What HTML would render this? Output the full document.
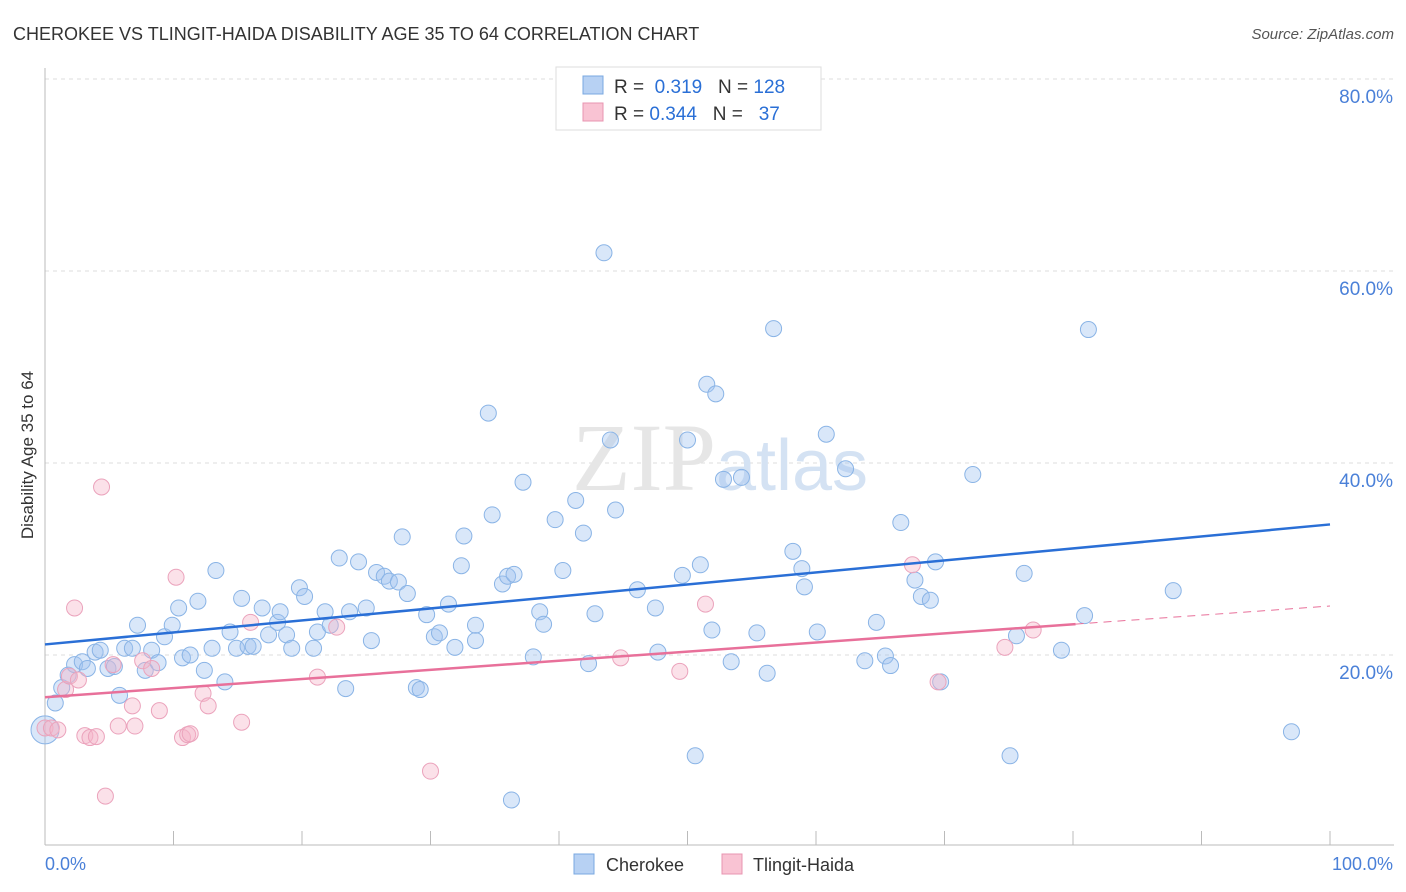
<!DOCTYPE html>
<html><head><meta charset="utf-8">
<style>
html,body{margin:0;padding:0;background:#fff;}
body{width:1406px;height:892px;overflow:hidden;font-family:"Liberation Sans",sans-serif;}
</style></head>
<body>
<svg id="chart" width="1406" height="892" xmlns="http://www.w3.org/2000/svg" style="position:absolute;left:0;top:0">
<text x="13" y="40" font-size="18" fill="#333" font-family="Liberation Sans, sans-serif">CHEROKEE VS TLINGIT-HAIDA DISABILITY AGE 35 TO 64 CORRELATION CHART</text>
<text x="1394" y="39" font-size="15" fill="#555" text-anchor="end" font-style="italic">Source: ZipAtlas.com</text>
<g id="grid"></g>
<text x="720" y="490" font-size="96" fill="#e6e6e6" text-anchor="middle" font-family="Liberation Serif, serif">ZIP<tspan fill="#d4e2f3" font-family="Liberation Sans, sans-serif" font-size="72">atlas</tspan></text>
<g id="marks"></g>
<text transform="translate(33,455) rotate(-90)" font-size="17" fill="#333" text-anchor="middle">Disability Age 35 to 64</text>
<text x="45" y="870" font-size="18" fill="#4a80d8">0.0%</text>
<text x="1393" y="870" font-size="18" fill="#4a80d8" text-anchor="end">100.0%</text>
<g>
<rect x="556" y="67" width="265" height="63" fill="#fff" stroke="#ddd"/>
<rect x="583" y="76" width="20" height="18" fill="#b7d1f3" stroke="#7aa8e0"/>
<rect x="583" y="103" width="20" height="18" fill="#f9c3d3" stroke="#e895b0"/>
<text x="614" y="93" font-size="19" fill="#333">R = <tspan fill="#2a6fd6">&#160;0.319</tspan>&#160;&#160;&#160;N = <tspan fill="#2a6fd6">128</tspan></text>
<text x="614" y="120" font-size="19" fill="#333">R = <tspan fill="#2a6fd6">0.344</tspan>&#160;&#160;&#160;N = <tspan fill="#2a6fd6">&#160;&#160;37</tspan></text>
</g>
<g>
<rect x="574" y="854" width="20" height="20" fill="#b7d1f3" stroke="#7aa8e0"/>
<text x="606" y="871" font-size="18" fill="#333">Cherokee</text>
<rect x="722" y="854" width="20" height="20" fill="#f9c3d3" stroke="#e895b0"/>
<text x="753" y="871" font-size="18" fill="#333">Tlingit-Haida</text>
</g>
</svg>
<script>
const yTicks=[20,40,60,80];
const yTickLabels=["20.0%","40.0%","60.0%","80.0%"];
const cherokeeX=[0,0.8,1.3,1.8,2.3,2.9,3.3,3.9,4.3,4.9,5.4,5.8,6.2,6.8,7.2,7.8,8.3,8.8,9.3,9.9,10.4,10.7,11.3,11.9,12.4,13.0,13.3,14.0,14.4,14.9,15.3,15.8,16.2,16.9,17.4,18.1,18.3,18.8,19.2,19.8,20.2,20.9,21.2,21.8,22.2,22.9,23.4,23.7,24.4,25.0,25.4,25.8,26.4,26.8,27.5,27.8,28.2,28.9,29.2,29.7,30.3,30.7,31.4,31.9,32.4,32.6,33.5,33.5,34.5,34.8,35.6,36.0,36.5,37.2,38.0,38.5,38.8,39.7,40.3,41.3,41.9,42.3,42.8,43.5,44.0,44.4,46.1,47.5,47.7,49.6,50.0,50.6,51.0,51.5,51.9,52.2,52.8,53.4,54.2,55.4,56.2,56.7,58.2,58.9,59.1,60.1,60.8,62.3,63.8,64.7,65.4,65.8,66.6,67.7,68.2,68.9,69.3,69.7,72.2,75.1,75.6,76.2,79.1,80.9,81.2,87.8,97.0,36.3];
const cherokeeY=[12.2,15.0,16.6,17.9,19.0,19.3,18.6,20.3,20.5,18.6,18.8,15.8,20.7,20.7,23.1,18.4,20.5,19.2,21.9,23.1,24.9,19.7,20.0,25.6,18.4,20.7,28.8,17.2,22.4,20.7,25.9,20.9,20.9,24.9,22.1,23.4,24.5,22.1,20.7,27.0,26.1,20.7,22.4,24.5,23.1,30.1,16.5,24.5,29.7,24.9,21.5,28.6,28.2,27.7,27.6,32.3,26.4,16.6,16.4,24.2,21.9,22.3,25.3,20.8,29.3,32.4,23.1,21.5,45.2,34.6,27.4,28.2,28.4,38.0,19.8,24.5,23.2,34.1,28.8,36.1,32.7,19.1,24.3,61.9,42.4,35.1,26.8,24.9,20.3,28.3,42.4,9.5,29.4,48.2,22.6,47.2,38.3,19.3,38.5,22.3,18.1,54.0,30.8,29.0,27.1,22.4,43.0,39.4,19.4,23.4,19.9,18.9,33.8,27.8,26.1,25.7,29.7,17.2,38.8,9.5,22.0,28.5,20.5,24.1,53.9,26.7,12.0,4.9];
const tlingitX=[0,0.5,1.0,1.6,1.9,2.3,2.6,3.1,3.5,4.0,4.4,4.7,5.3,5.7,6.8,7.0,7.6,8.3,8.9,10.2,10.7,11.1,11.3,12.3,12.7,15.3,16.0,21.2,22.7,30.0,44.8,49.4,51.4,67.5,69.5,74.7,76.9];
const tlingitY=[12.4,12.4,12.2,16.4,17.8,24.9,17.4,11.6,11.4,11.5,37.5,5.3,19.0,12.6,14.7,12.6,19.4,18.6,14.2,28.1,11.4,11.7,11.8,16.0,14.7,13.0,23.4,17.7,22.9,7.9,19.7,18.3,25.3,29.4,17.2,20.8,22.6];
const cherokeeTrend=[21.1,33.6];
const tlingitTrend=[15.6,25.1];
const tlingitSolidEnd=80.2;

const X0=45,X1=1330,YB=847,PXPER=9.6;
const sx=v=>X0+(X1-X0)*v/100;
const sy=v=>YB-v*PXPER;
const NS="http://www.w3.org/2000/svg";
function mk(tag,attrs,parent){const e=document.createElementNS(NS,tag);for(const k in attrs)e.setAttribute(k,attrs[k]);parent.appendChild(e);return e;}
const grid=document.getElementById('grid');
const marks=document.getElementById('marks');
yTicks.forEach((t,i)=>{
  const l=mk('line',{x1:45,x2:1394,y1:sy(t),y2:sy(t),stroke:'#ddd','stroke-dasharray':'4,4'},grid);
  
  
  const tx=mk('text',{x:1393,y:sy(t)+24,'font-size':19,fill:'#4a80d8','text-anchor':'end'},grid);
  tx.textContent=yTickLabels[i];
  
  
});
const ax=mk('line',{x1:45,x2:1394,y1:845,y2:845,stroke:'#bbb'},grid);


const ay=mk('line',{x1:45,x2:45,y1:68,y2:845,stroke:'#bbb'},grid);


for(let i=0;i<=10;i++){
  const t=mk('line',{x1:sx(i*10),x2:sx(i*10),y1:831,y2:845,stroke:'#bbb'},grid);
  
  
}
cherokeeX.forEach((x,i)=>{
  const c=mk('circle',{cx:sx(x),cy:sy(cherokeeY[i]),r:i===0?14:8,fill:'rgba(160,196,240,0.4)',stroke:'#8ab4e6','stroke-width':1},marks);
  
  
});
tlingitX.forEach((x,i)=>{
  const c=mk('circle',{cx:sx(x),cy:sy(tlingitY[i]),r:8,fill:'rgba(245,180,200,0.4)',stroke:'#eba3bc','stroke-width':1},marks);
  
  
});
const bl=mk('line',{x1:sx(0),y1:sy(cherokeeTrend[0]),x2:sx(100),y2:sy(cherokeeTrend[1]),stroke:'#2a6fd6','stroke-width':2.5},marks);


const pm=tlingitTrend[0]+(tlingitTrend[1]-tlingitTrend[0])*tlingitSolidEnd/100;
const pl=mk('line',{x1:sx(0),y1:sy(tlingitTrend[0]),x2:sx(tlingitSolidEnd),y2:sy(pm),stroke:'#e8709a','stroke-width':2.5},marks);


const pd=mk('line',{x1:sx(tlingitSolidEnd),y1:sy(pm),x2:sx(100),y2:sy(tlingitTrend[1]),stroke:'#e8709a','stroke-width':1,'stroke-dasharray':'8,6'},marks);


</script>
</body></html>
